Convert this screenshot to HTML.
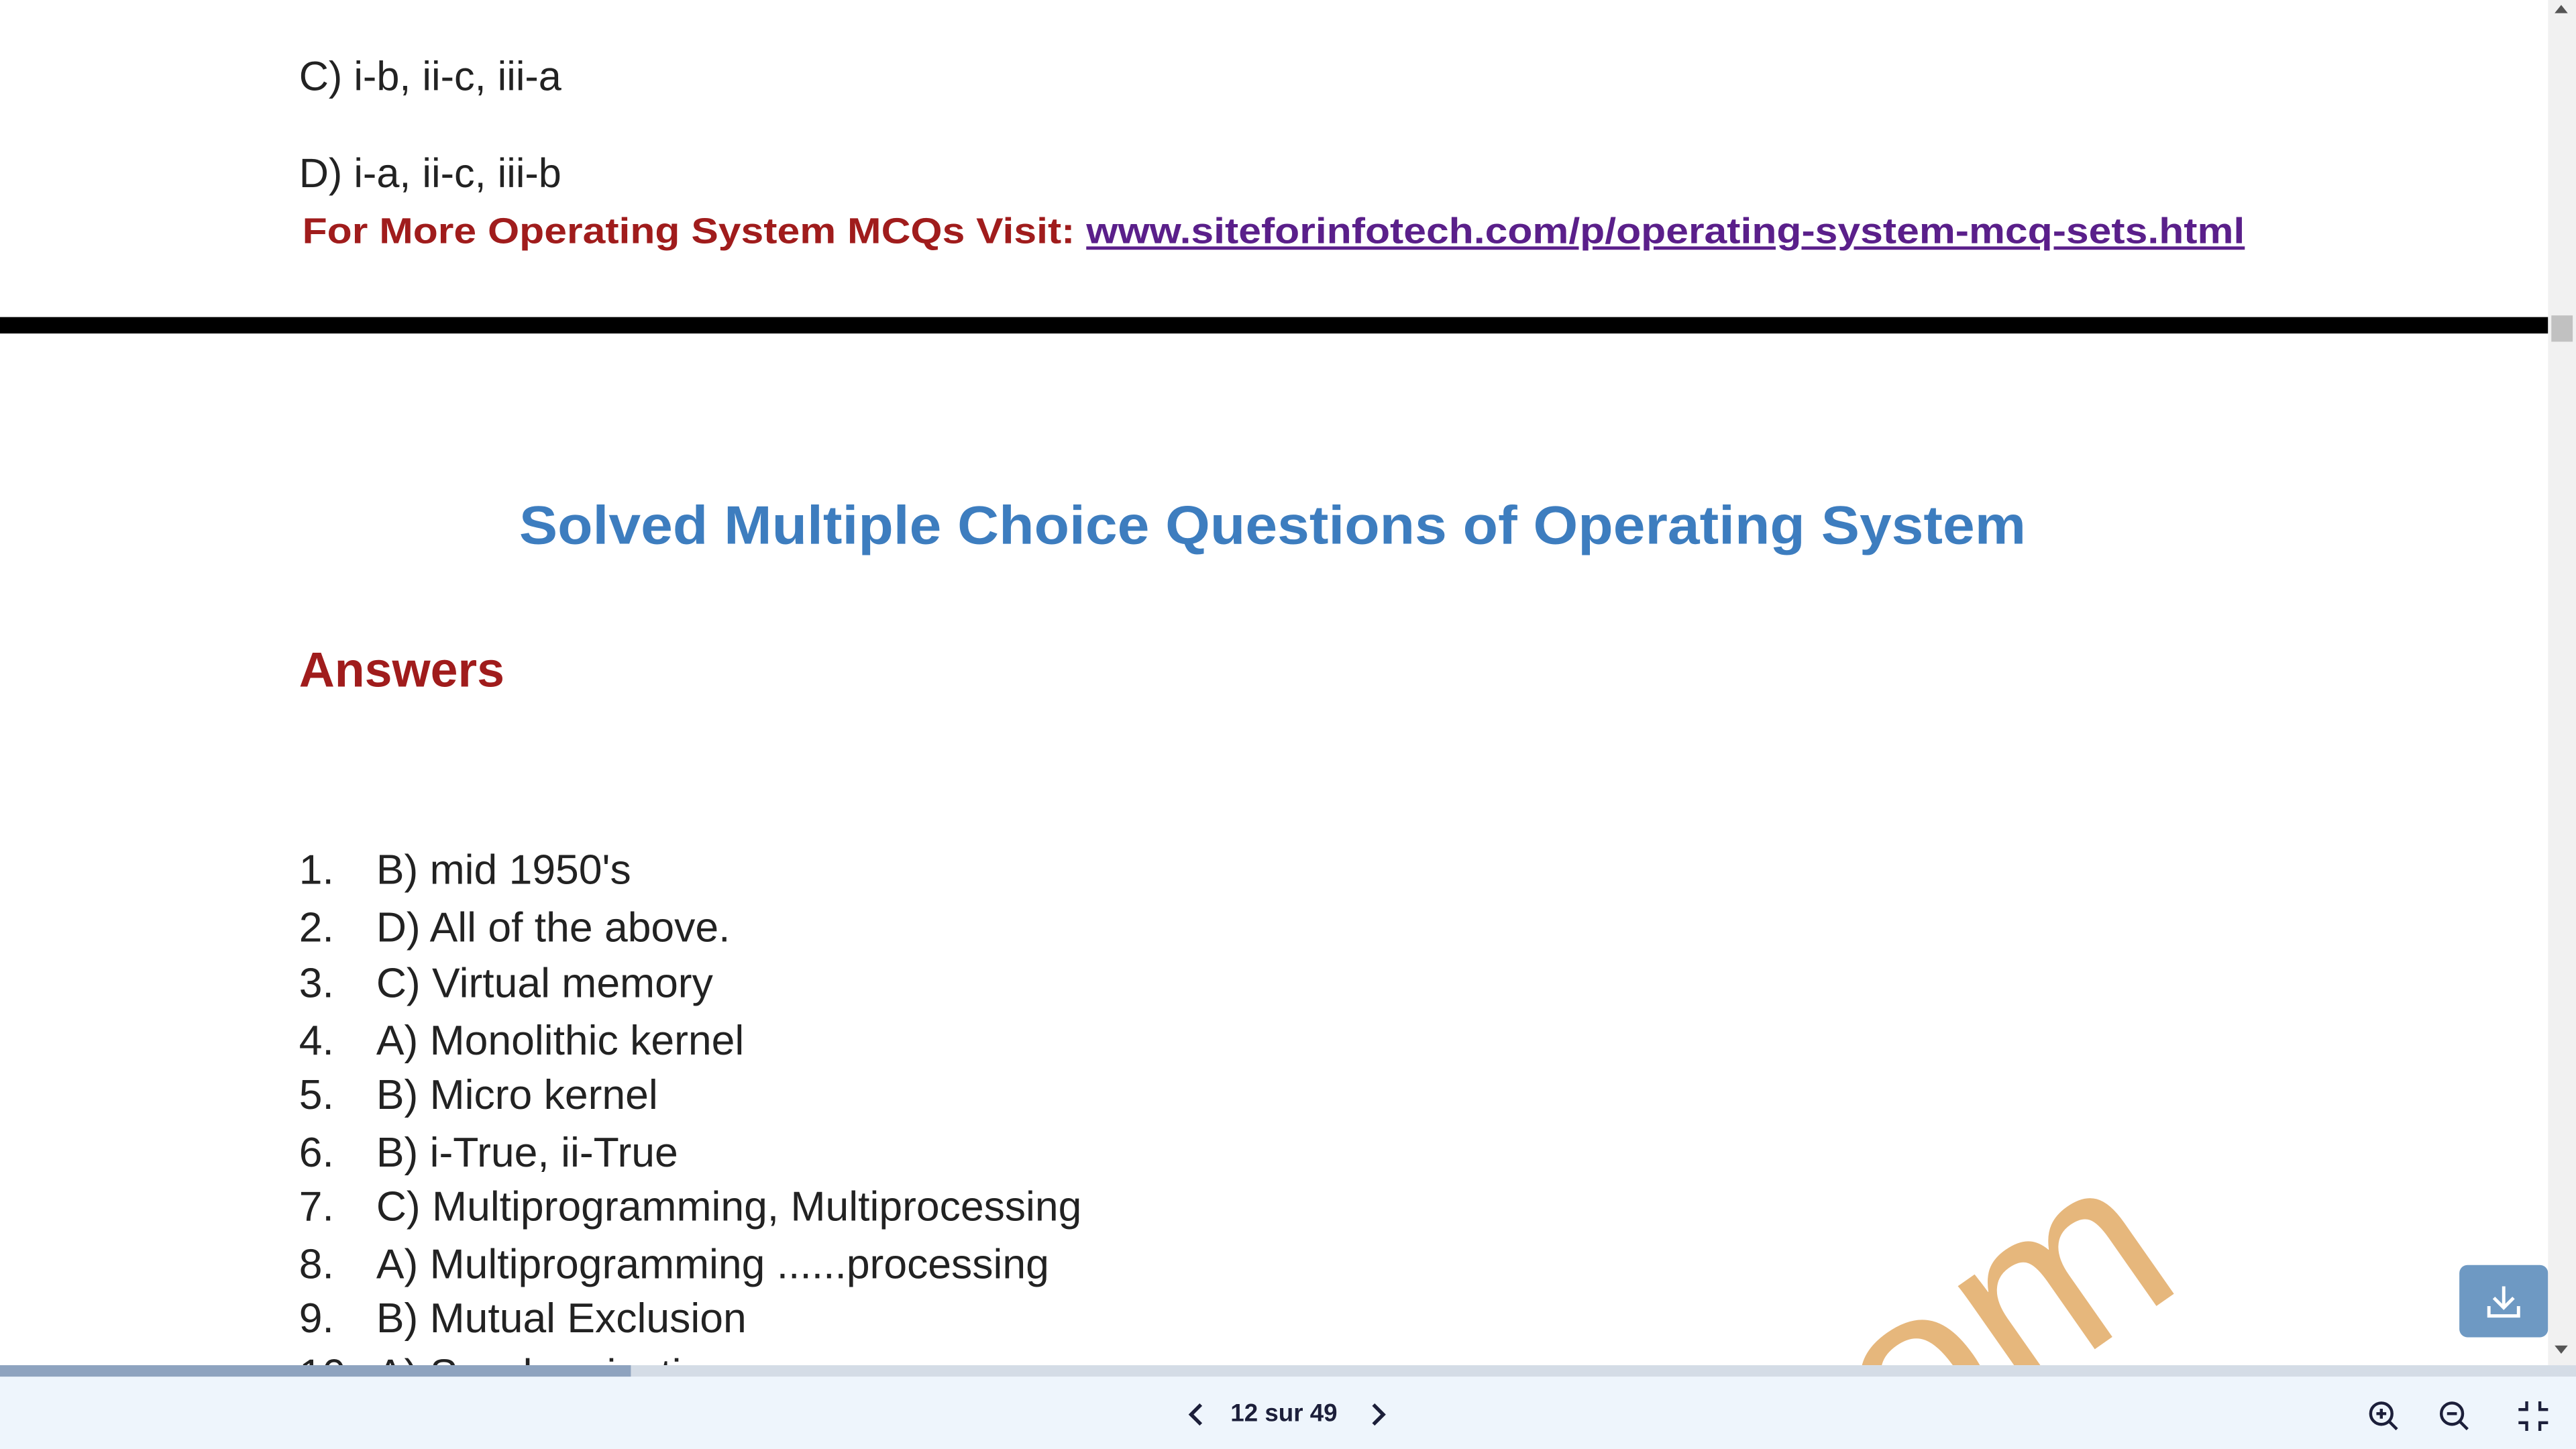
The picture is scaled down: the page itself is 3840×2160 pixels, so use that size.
<!DOCTYPE html>
<html><head><meta charset="utf-8"><style>
html,body{margin:0;padding:0;width:3840px;height:2160px;overflow:hidden;background:#fff}
#wrap{position:absolute;left:0;top:0;width:1568px;height:882px;overflow:hidden;transform:scale(2.44898);transform-origin:0 0;font-family:"Liberation Sans",sans-serif;color:#222}
.t{position:absolute;white-space:nowrap}
#view{position:absolute;left:0;top:0;width:1551px;height:831px;overflow:hidden;background:#fff}
.li{position:absolute;left:182px;font-size:25.5px;white-space:nowrap}
.li span{position:absolute;left:47px}
</style></head><body>
<div id="wrap">
<div id="view">
 <div class="t" style="left:182px;top:33px;font-size:25px">C) i-b, ii-c, iii-a</div>
 <div class="t" style="left:182px;top:92px;font-size:25px">D) i-a, ii-c, iii-b</div>
 <div class="t" style="left:184px;top:128px;font-size:22px;font-weight:bold;color:#a01c1c;transform:scaleX(1.126);transform-origin:0 0">For More Operating System MCQs Visit: <a style="color:#5a1f8a;text-decoration:underline">www.siteforinfotech.com/p/operating-system-mcq-sets.html</a></div>
 <div style="position:absolute;left:0;top:193px;width:1551px;height:10px;background:#000"></div>
 <div class="t" style="left:316px;top:301px;font-size:33px;font-weight:bold;color:#3d7dbf;transform:scaleX(1.062);transform-origin:0 0">Solved Multiple Choice Questions of Operating System</div>
 <div class="t" style="left:182px;top:392px;font-size:30px;font-weight:bold;color:#a01c1c">Answers</div>
 <div class="li" style="top:516px">1.<span>B) mid 1950's</span></div>
 <div class="li" style="top:551px">2.<span>D) All of the above.</span></div>
 <div class="li" style="top:585px">3.<span>C) Virtual memory</span></div>
 <div class="li" style="top:620px">4.<span>A) Monolithic kernel</span></div>
 <div class="li" style="top:653px">5.<span>B) Micro kernel</span></div>
 <div class="li" style="top:688px">6.<span>B) i-True, ii-True</span></div>
 <div class="li" style="top:721px">7.<span>C) Multiprogramming, Multiprocessing</span></div>
 <div class="li" style="top:756px">8.<span>A) Multiprogramming ......processing</span></div>
 <div class="li" style="top:789px">9.<span>B) Mutual Exclusion</span></div>
 <div class="li" style="top:823px">10.<span>A) Synchronization</span></div>
 <div class="t" style="left:1112px;top:724px;font-size:150px;color:#e6b77c;transform:rotate(-35deg);transform-origin:50% 50%;line-height:1">om</div>
 <div style="position:absolute;left:1497px;top:770px;width:54px;height:44px;background:#6e99c3;border-radius:5px">
  <svg width="54" height="44" viewBox="0 0 54 44"><path d="M27 13v13M21 20l6 6 6-6M18 25v6h18v-6" stroke="#fff" stroke-width="2" fill="none"/></svg>
 </div>
</div>
<div style="position:absolute;left:1551px;top:0;width:17px;height:831px;background:#f1f1f1">
 <div style="position:absolute;left:4px;top:3px;width:0;height:0;border-left:4px solid transparent;border-right:4px solid transparent;border-bottom:5px solid #555"></div>
 <div style="position:absolute;left:2px;top:192px;width:13px;height:16px;background:#c1c1c1"></div>
 <div style="position:absolute;left:4px;top:819px;width:0;height:0;border-left:4px solid transparent;border-right:4px solid transparent;border-top:5px solid #555"></div>
</div>
<div style="position:absolute;left:0;top:831px;width:1568px;height:7px;background:#d4dce6">
 <div style="width:384px;height:7px;background:#8ea3bf"></div>
</div>
<div style="position:absolute;left:0;top:838px;width:1568px;height:44px;background:#eef5fc">
 <svg style="position:absolute;left:721px;top:15px" width="14" height="16"><path d="M10 2L4 8l6 6" stroke="#1c1f3a" stroke-width="2.2" fill="none"/></svg>
 <div class="t" style="left:749px;top:14px;font-size:15px;font-weight:bold;color:#1c1f3a">12 sur 49</div>
 <svg style="position:absolute;left:832px;top:15px" width="14" height="16"><path d="M4 2l6 6-6 6" stroke="#1c1f3a" stroke-width="2.2" fill="none"/></svg>
 <svg style="position:absolute;left:1441px;top:14px" width="20" height="20"><circle cx="8.5" cy="8.5" r="6.5" stroke="#1c1f3a" stroke-width="1.8" fill="none"/><path d="M13 13l5 5M5.5 8.5h6M8.5 5.5v6" stroke="#1c1f3a" stroke-width="1.8"/></svg>
 <svg style="position:absolute;left:1484px;top:14px" width="20" height="20"><circle cx="8.5" cy="8.5" r="6.5" stroke="#1c1f3a" stroke-width="1.8" fill="none"/><path d="M13 13l5 5M5.5 8.5h6" stroke="#1c1f3a" stroke-width="1.8"/></svg>
 <svg style="position:absolute;left:1532px;top:14px" width="20" height="20"><path d="M6 1v5H1M14 1v5h5M6 19v-5H1M14 19v-5h5" stroke="#1c1f3a" stroke-width="1.8" fill="none"/></svg>
</div>
</div>
</body></html>
